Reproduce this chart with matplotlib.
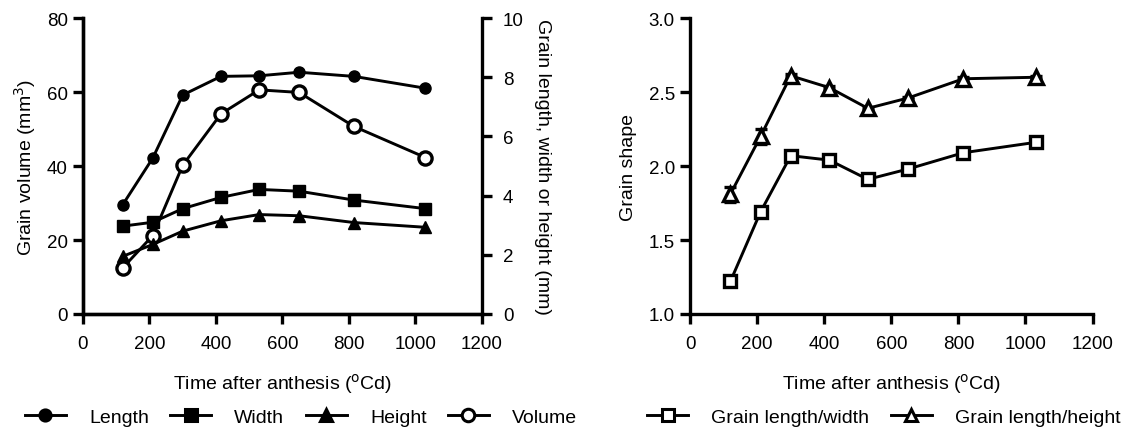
import matplotlib
matplotlib.use("Agg")
import matplotlib.pyplot as plt
from matplotlib.lines import Line2D

plt.rcParams.update({"font.family": ["Liberation Sans", "DejaVu Sans"],
                     "font.size": 13, "axes.linewidth": 2.4,
                     "xtick.labelsize": 13.5, "ytick.labelsize": 13.5,
                     "xtick.major.width": 2.4, "ytick.major.width": 2.4,
                     "xtick.major.size": 7, "ytick.major.size": 7,
                     "xtick.major.pad": 8, "ytick.major.pad": 4})

# Time after anthesis (degree-days)
TIME = [120, 210, 300, 415, 530, 650, 815, 1030]

# left panel: dimensions (mm, right axis) and volume (mm3, left axis)
LENGTH = [3.70, 5.27, 7.40, 8.03, 8.05, 8.17, 8.03, 7.63]
WIDTH = [2.97, 3.10, 3.56, 3.94, 4.21, 4.15, 3.85, 3.56]
HEIGHT = [1.95, 2.35, 2.80, 3.15, 3.36, 3.32, 3.09, 2.93]
VOLUME = [12.5, 21.2, 40.2, 54.1, 60.6, 59.9, 50.7, 42.3]

# right panel: grain shape ratios
L_W = [1.22, 1.69, 2.07, 2.04, 1.91, 1.98, 2.09, 2.16]
L_H = [1.81, 2.20, 2.61, 2.53, 2.39, 2.46, 2.59, 2.60]
L_H_ERR = [0.05, 0.05, 0.01, 0.01, 0.01, 0.01, 0.01, 0.01]

K = "black"
LW = 2.1
XLABEL = "Time after anthesis ($^{\\rm o}$Cd)"

fig = plt.figure(figsize=(11.24, 4.39), dpi=100)
ax = fig.add_axes([0.0738, 0.2825, 0.355, 0.674])
ax2 = ax.twinx()
bx = fig.add_axes([0.614, 0.2825, 0.358, 0.674])

# ---------------- left panel ---------------- #
ax2.plot(TIME, LENGTH, color=K, lw=LW, marker="o", ms=8, zorder=3)
ax2.plot(TIME, WIDTH, color=K, lw=LW, marker="s", ms=8, zorder=3)
ax2.plot(TIME, HEIGHT, color=K, lw=LW, marker="^", ms=8, zorder=3)
ax.plot(TIME, VOLUME, color=K, lw=LW, marker="o", ms=9.5, mfc="white",
        mew=2.4, zorder=3)

ax.set_xlim(0, 1200)
ax.set_ylim(0, 80)
ax2.set_ylim(0, 10)
ax.set_xticks(range(0, 1201, 200))
ax.set_yticks(range(0, 81, 20))
ax2.set_yticks(range(0, 11, 2))
ax2.tick_params(axis="y", pad=8)
ax.set_xlabel(XLABEL, labelpad=14, fontsize=14)
ax.set_ylabel("Grain volume (mm$^3$)", labelpad=6, fontsize=14)
ax2.set_ylabel("Grain length, width or height (mm)", rotation=270,
               labelpad=20, fontsize=14)
for a in (ax, ax2):
    a.spines["top"].set_visible(False)
ax.spines["right"].set_visible(False)

# ---------------- right panel ---------------- #
bx.plot(TIME, L_W, color=K, lw=LW, marker="s", ms=9, mfc="white", mew=2.4,
        zorder=3)
bx.errorbar(TIME, L_H, yerr=L_H_ERR, color=K, lw=LW, marker="^", ms=9.5,
            mfc="white", mew=2.4, capsize=4, capthick=2, elinewidth=2,
            zorder=3)
bx.set_xlim(0, 1200)
bx.set_ylim(1.0, 3.0)
bx.set_xticks(range(0, 1201, 200))
bx.set_yticks([1.0, 1.5, 2.0, 2.5, 3.0])
bx.set_yticklabels(["1.0", "1.5", "2.0", "2.5", "3.0"])
bx.set_xlabel(XLABEL, labelpad=14, fontsize=14)
bx.set_ylabel("Grain shape", labelpad=8, fontsize=14)
bx.spines["top"].set_visible(False)
bx.spines["right"].set_visible(False)

# ---------------- legends ---------------- #
def h(marker, fill, ms=8):
    return Line2D([], [], color=K, lw=LW, marker=marker, ms=ms,
                  mfc=K if fill else "white", mew=2.2)

fig.legend([h("o", True), h("s", True), h("^", True), h("o", False, 9)],
           ["Length", "Width", "Height", "Volume"],
           loc="center left", bbox_to_anchor=(0.022, 0.048), ncol=4,
           frameon=False, handlelength=2.1, handletextpad=1.2,
           columnspacing=1.1, fontsize=14, borderaxespad=0, borderpad=0)
fig.legend([h("s", False, 9), h("^", False, 9)],
           ["Grain length/width", "Grain length/height"],
           loc="center right", bbox_to_anchor=(0.997, 0.048), ncol=2,
           frameon=False, handlelength=2.1, handletextpad=1.2,
           columnspacing=1.1, fontsize=14, borderaxespad=0, borderpad=0)

fig.savefig("out.png", dpi=100)
